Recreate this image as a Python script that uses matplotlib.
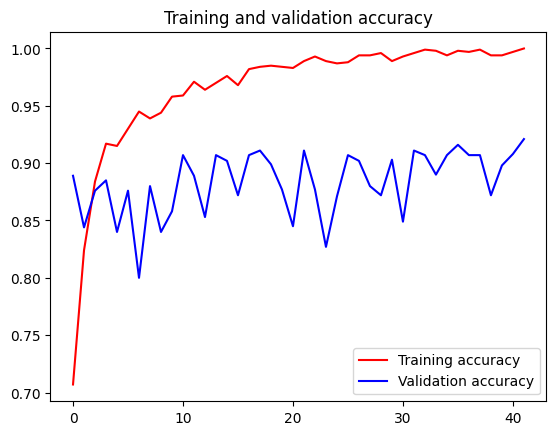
import matplotlib
matplotlib.use("Agg")
import matplotlib.pyplot as plt

# accuracy per epoch
acc = [0.707, 0.824, 0.884, 0.917, 0.915, 0.930, 0.945, 0.939, 0.944, 0.958,
       0.959, 0.971, 0.964, 0.970, 0.976, 0.968, 0.982, 0.984, 0.985, 0.984,
       0.983, 0.989, 0.993, 0.989, 0.987, 0.988, 0.994, 0.994, 0.996, 0.989,
       0.993, 0.996, 0.999, 0.998, 0.994, 0.998, 0.997, 0.999, 0.994, 0.994,
       0.997, 1.000]
val_acc = [0.889, 0.844, 0.876, 0.885, 0.840, 0.876, 0.800, 0.880, 0.840, 0.858,
           0.907, 0.889, 0.853, 0.907, 0.902, 0.872, 0.907, 0.911, 0.899, 0.877,
           0.845, 0.911, 0.877, 0.827, 0.871, 0.907, 0.902, 0.880, 0.872, 0.903,
           0.849, 0.911, 0.907, 0.890, 0.907, 0.916, 0.907, 0.907, 0.872, 0.898,
           0.908, 0.921]
epochs = range(len(acc))

plt.figure(figsize=(6.4, 4.8), dpi=100)
plt.plot(epochs, acc, 'r', label='Training accuracy')
plt.plot(epochs, val_acc, 'b', label='Validation accuracy')
plt.title('Training and validation accuracy')
plt.legend(loc=0)
plt.savefig('out.png', bbox_inches='tight')
